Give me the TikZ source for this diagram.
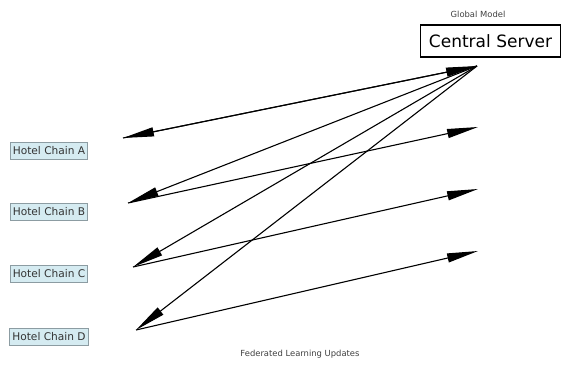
\documentclass[tikz,border=0pt]{standalone}
\usepackage{fontspec}
\setmainfont{DejaVu Sans}
\usetikzlibrary{arrows.meta}
\definecolor{hotelfill}{HTML}{D5EBF1}
\definecolor{hotelline}{HTML}{8C9CA2}
\begin{document}
\begin{tikzpicture}[x=1pt,y=-1pt,
  hotel/.style={draw=hotelline,fill=hotelfill,line width=0.9pt,font=\fontsize{10.6}{11}\selectfont,text=black!80,inner xsep=2.5pt,inner ysep=2pt,minimum height=17pt},
  server/.style={draw=black,line width=1.1pt,font=\fontsize{17}{19}\selectfont,inner xsep=4pt,minimum height=32pt,minimum width=140pt},
  small/.style={font=\fontsize{8.4}{9}\selectfont,text=black!75},
  arr/.style={line width=1.1pt,-{Triangle[length=31pt,width=9pt]}}]
\useasboundingbox (0,0) rectangle (561,364);
\node[server] (srv) at (490.5,41) {Central Server};
\node[small] (gm) at (478,14) {Global Model};
\node[small] (flu) at (300,354) {Federated Learning Updates};
\node[hotel] (hA) at (49,150.5) {Hotel Chain A};
\node[hotel] (hB) at (49,211.5) {Hotel Chain B};
\node[hotel] (hC) at (49,274) {Hotel Chain C};
\node[hotel] (hD) at (49,336.5) {Hotel Chain D};
\coordinate (s0) at (477,66);
\coordinate (r1) at (478,127);
\coordinate (r2) at (478,189);
\coordinate (r3) at (478,251);
\coordinate (tA) at (123,138);
\coordinate (tB) at (128,203);
\coordinate (tC) at (133,267);
\coordinate (tD) at (136,330);
\draw[arr] (s0) -- (tA);
\draw[arr] (s0) -- (tB);
\draw[arr] (s0) -- (tC);
\draw[arr] (s0) -- (tD);
\draw[arr] (tA) -- (s0);
\draw[arr] (tB) -- (r1);
\draw[arr] (tC) -- (r2);
\draw[arr] (tD) -- (r3);
\end{tikzpicture}
\end{document}
